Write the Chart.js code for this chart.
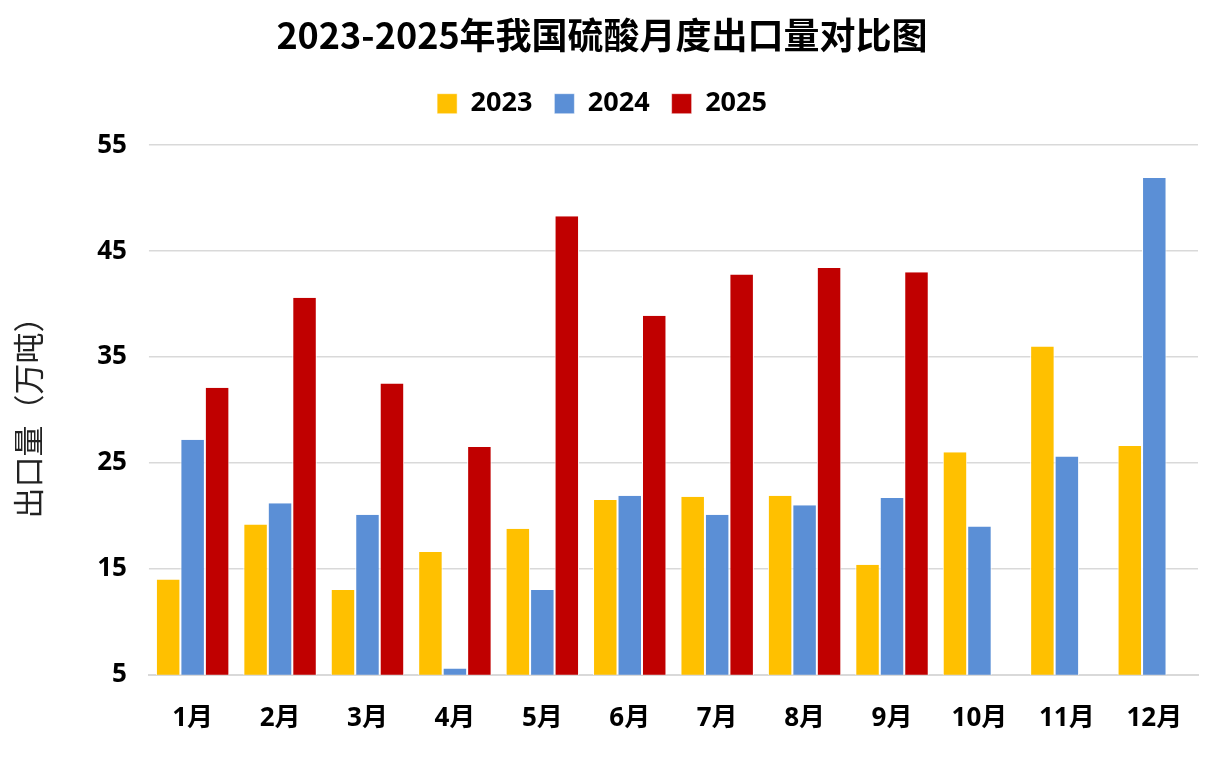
<!DOCTYPE html>
<html>
<head>
<meta charset="utf-8">
<script src="https://cdn.jsdelivr.net/npm/chart.js@4"></script>
<style>
  html, body { margin: 0; padding: 0; background: #ffffff; }
  #wrap { width: 1212px; height: 760px; position: relative; }
</style>
</head>
<body>
<div id="wrap"><canvas id="chart"></canvas></div>
<script>
// --- Data ---
const months = ['1月', '2月', '3月', '4月', '5月', '6月', '7月', '8月', '9月', '10月', '11月', '12月'];
const export2023 = [14.0, 19.2, 13.0, 16.6, 18.8, 21.5, 21.8, 21.9, 15.4, 26.0, 36.0, 26.6];
const export2024 = [27.2, 21.2, 20.1, 5.6, 13.0, 21.9, 20.1, 21.0, 21.7, 19.0, 25.6, 51.9];
const export2025 = [32.1, 40.6, 32.5, 26.5, 48.3, 38.9, 42.8, 43.4, 43.0, null, null, null];
const yTicks = [5, 15, 25, 35, 45, 55];

const tickFont = "'Open Sans', 'Noto Sans CJK SC', sans-serif";
const cjkFont = "'Noto Sans CJK SC', sans-serif";

function series(label, data, color) {
    return {
        label: label,
        data: data,
        backgroundColor: color,
        borderColor: '#ffffff',
        borderWidth: { left: 1, right: 1 },
        borderSkipped: false,
        categoryPercentage: 0.84,
        barPercentage: 1.0
    };
}

// extra room below the legend, like the original
const legendGap = {
    id: 'legendGap',
    beforeInit(chart) {
        const fit = chart.legend.fit;
        chart.legend.fit = function () {
            fit.bind(chart.legend)();
            this.height += 18;
        };
    }
};

const ctx = document.getElementById('chart').getContext('2d');
new Chart(ctx, {
    type: 'bar',
    data: {
        labels: months,
        datasets: [
            series('2023', export2023, '#FFC000'),
            series('2024', export2024, '#5B8FD6'),
            series('2025', export2025, '#C00000')
        ]
    },
    plugins: [legendGap],
    options: {
        responsive: true,
        maintainAspectRatio: false,
        animation: false,
        layout: { padding: { left: 6, right: 14, top: 6, bottom: 6 } },
        plugins: {
            title: {
                display: true,
                text: '2023-2025年我国硫酸月度出口量对比图',
                color: '#000000',
                font: { family: cjkFont, size: 36, weight: 'bold' },
                padding: { top: 8, bottom: 11 }
            },
            legend: {
                display: true,
                position: 'top',
                labels: {
                    color: '#000000',
                    boxWidth: 20,
                    boxHeight: 20,
                    padding: 22,
                    font: { family: tickFont, size: 27, weight: 'bold' }
                }
            },
            tooltip: { enabled: false }
        },
        scales: {
            x: {
                grid: { display: false },
                border: { color: '#d9d9d9', width: 2 },
                ticks: {
                    color: '#000000',
                    padding: 20,
                    font: { family: tickFont, size: 26, weight: 'bold' }
                }
            },
            y: {
                min: 5,
                max: 55,
                afterBuildTicks: function (axis) {
                    axis.ticks = yTicks.map(v => ({ value: v }));
                },
                grid: { color: '#d9d9d9', lineWidth: 1.5, tickLength: 0 },
                border: { display: false },
                ticks: {
                    color: '#000000',
                    padding: 22,
                    font: { family: tickFont, size: 26, weight: 'bold' }
                },
                title: {
                    display: true,
                    text: '出口量（万吨）',
                    color: '#222222',
                    padding: { bottom: 28 },
                    font: { family: cjkFont, size: 31, weight: 'normal' }
                }
            }
        }
    }
});
</script>
</body>
</html>
